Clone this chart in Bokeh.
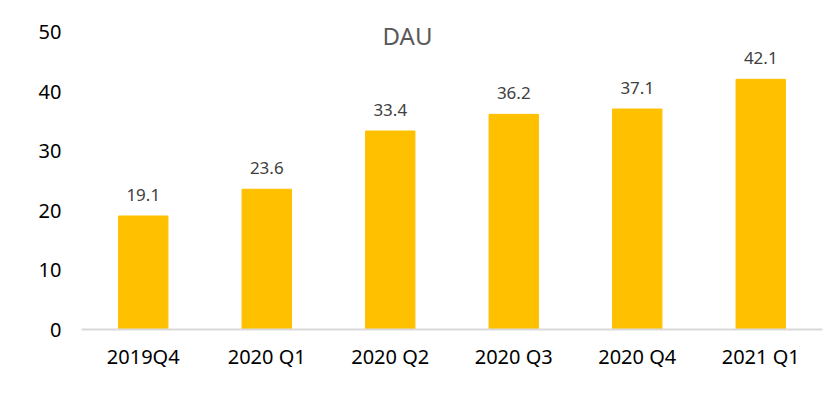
from bokeh.plotting import figure
from bokeh.models import ColumnDataSource, Label, Range1d, FixedTicker
from bokeh.core.properties import value
from bokeh.embed import file_html
from bokeh.resources import INLINE

categories = ["2019Q4", "2020 Q1", "2020 Q2", "2020 Q3", "2020 Q4", "2021 Q1"]
dau = [19.1, 23.6, 33.4, 36.2, 37.1, 42.1]
y_ticks = [0, 10, 20, 30, 40, 50]

FONT = "Noto Sans"

src = ColumnDataSource(dict(cat=categories, val=dau, lab=[f"{v:.1f}" for v in dau]))

# frame extends slightly above 50 so the in-plot title is not clipped
p = figure(x_range=categories, y_range=Range1d(0, 52.5), width=828, height=396,
           output_backend="svg", toolbar_location=None,
           min_border_left=81, min_border_right=6, min_border_top=17, min_border_bottom=67)
p.outline_line_color = None
p.grid.visible = False
p.background_fill_color = "white"
p.border_fill_color = "white"

p.vbar(x="cat", top="val", width=0.4, color="#FFC000", source=src)
p.text(x="cat", y="val", text="lab", source=src, text_align="center", text_baseline="bottom",
       y_offset=-15, text_font=value(FONT), text_font_size="17px", text_color="#404040")

p.yaxis.ticker = FixedTicker(ticks=y_ticks)
p.yaxis.axis_line_color = None
p.yaxis.major_tick_line_color = None
p.yaxis.minor_tick_line_color = None
p.yaxis.major_label_standoff = 14
p.yaxis.major_label_text_font = FONT
p.yaxis.major_label_text_font_size = "20px"
p.yaxis.major_label_text_color = "#000000"

p.xaxis.axis_line_color = "#D9D9D9"
p.xaxis.axis_line_width = 2
p.xaxis.major_tick_line_color = None
p.xaxis.minor_tick_line_color = None
p.xaxis.major_label_standoff = 7
p.xaxis.major_label_text_font = FONT
p.xaxis.major_label_text_font_size = "20px"
p.xaxis.major_label_text_color = "#000000"

title = Label(x=326, y=294, x_units="screen", y_units="screen", text="DAU",
              text_align="center", text_baseline="middle", text_font=FONT,
              text_font_size="24px", text_color="#595959")
p.add_layout(title)

open("out.html", "w").write(file_html(p, INLINE))
